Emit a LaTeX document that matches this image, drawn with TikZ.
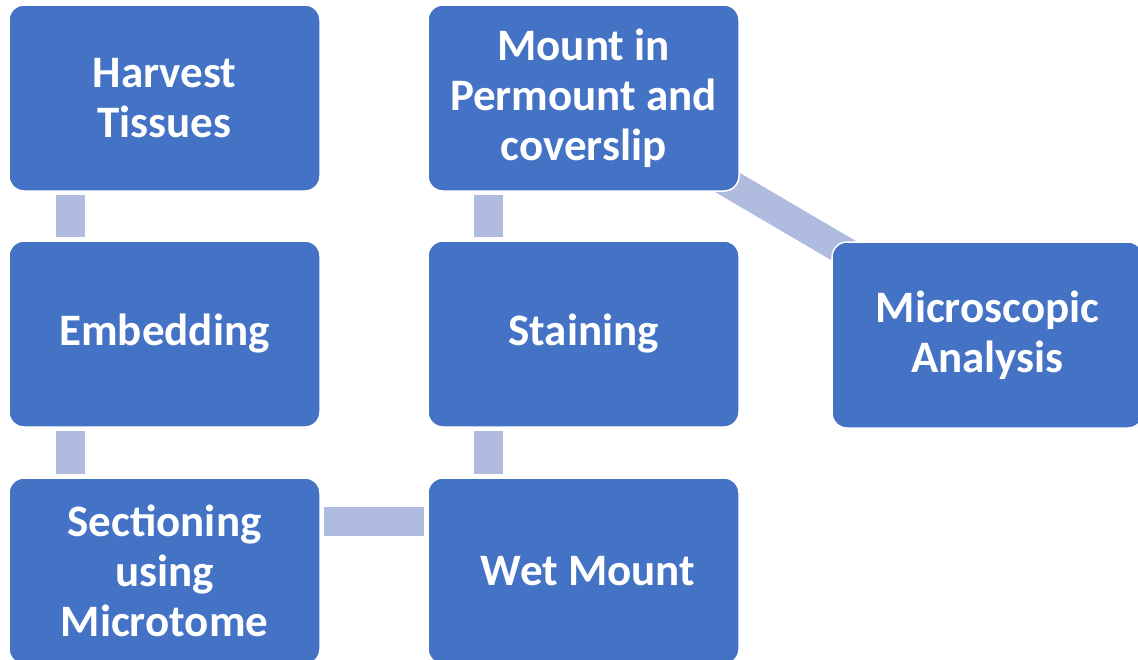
\documentclass[tikz,border=0pt]{standalone}
\usepackage{fontspec}
\setmainfont{Carlito}
\usetikzlibrary{calc}
\definecolor{boxblue}{HTML}{4472C4}
\definecolor{connblue}{HTML}{B0BCDF}
\pgfdeclarelayer{bg}
\pgfsetlayers{bg,main}
\begin{document}
\begin{tikzpicture}[x=1pt,y=-1pt,
  stepbox/.style={draw=white, line width=1.5pt, fill=boxblue, rounded corners=15pt,
    minimum width=311pt, minimum height=186pt, inner sep=0pt, align=center,
    text=white, font=\fontsize{45}{50}\selectfont\bfseries},
  conn/.style={draw=connblue, line width=29pt}]
\useasboundingbox (0,0) rectangle (1138,659);
\clip (0,0) rectangle (1138,659);
\node[stepbox] (harvest) at (164.5,98) {Harvest\\Tissues};
\node[stepbox] (embed) at (164.5,334) {Embedding};
\node[stepbox] (section) at (164.5,571) {Sectioning\\using\\Microtome};
\node[stepbox] (wet) at (583.5,571) {\hspace*{9pt}Wet Mount};
\node[stepbox] (stain) at (583.5,334) {Staining};
\node[stepbox] (mount) at (583.5,98) {Mount in\\Permount and\\coverslip};
\node[stepbox] (micro) at (987.5,335) {Microscopic\\Analysis};
\begin{pgfonlayer}{bg}
\draw[conn] ($(harvest.south west)+(62.5,3)$) -- ($(embed.north west)+(62.5,-3)$);
\draw[conn] ($(embed.south west)+(62.5,3)$) -- ($(section.north west)+(62.5,-3)$);
\draw[conn] ($(section.north east)+(3,44.5)$) -- ($(wet.north west)+(-3,44.5)$);
\draw[conn] ($(wet.north west)+(61.5,-3)$) -- ($(stain.south west)+(61.5,3)$);
\draw[conn] ($(stain.north west)+(61.5,-3)$) -- ($(mount.south west)+(61.5,3)$);
\draw[conn] (mount.center) -- (micro.center);
\end{pgfonlayer}
\end{tikzpicture}
\end{document}
